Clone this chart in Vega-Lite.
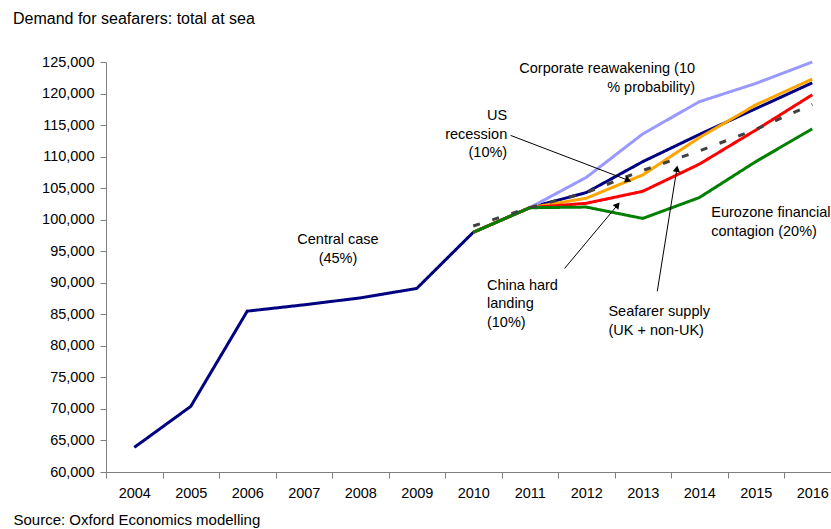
{
  "$schema": "https://vega.github.io/schema/vega-lite/v6.json",
  "width": 734.5,
  "height": 410,
  "padding": {"left": 5, "top": 11, "right": 5, "bottom": 5},
  "background": "white",
  "config": {"view": {"stroke": null}, "font": "Liberation Sans"},
  "title": {"text": "Demand for seafarers: total at sea", "anchor": "start", "frame": "bounds", "dx": 8, "offset": 27, "fontSize": 16, "fontWeight": "normal", "color": "black", "font": "Liberation Sans"},
  "datasets": {
    "series": [
      {"year": "2004", "series": "Central case", "value": 63900},
      {"year": "2005", "series": "Central case", "value": 70400},
      {"year": "2006", "series": "Central case", "value": 85500},
      {"year": "2007", "series": "Central case", "value": 86500},
      {"year": "2008", "series": "Central case", "value": 87600},
      {"year": "2009", "series": "Central case", "value": 89100},
      {"year": "2010", "series": "Central case", "value": 98000},
      {"year": "2011", "series": "Central case", "value": 101900},
      {"year": "2012", "series": "Central case", "value": 104300},
      {"year": "2013", "series": "Central case", "value": 109200},
      {"year": "2014", "series": "Central case", "value": 113500},
      {"year": "2015", "series": "Central case", "value": 117600},
      {"year": "2016", "series": "Central case", "value": 121700},
      {"year": "2010", "series": "Corporate reawakening", "value": 98000},
      {"year": "2011", "series": "Corporate reawakening", "value": 101900},
      {"year": "2012", "series": "Corporate reawakening", "value": 106700},
      {"year": "2013", "series": "Corporate reawakening", "value": 113600},
      {"year": "2014", "series": "Corporate reawakening", "value": 118700},
      {"year": "2015", "series": "Corporate reawakening", "value": 121600},
      {"year": "2016", "series": "Corporate reawakening", "value": 125000},
      {"year": "2010", "series": "US recession", "value": 98000},
      {"year": "2011", "series": "US recession", "value": 101900},
      {"year": "2012", "series": "US recession", "value": 103400},
      {"year": "2013", "series": "US recession", "value": 107100},
      {"year": "2014", "series": "US recession", "value": 113000},
      {"year": "2015", "series": "US recession", "value": 118200},
      {"year": "2016", "series": "US recession", "value": 122300},
      {"year": "2010", "series": "China hard landing", "value": 98000},
      {"year": "2011", "series": "China hard landing", "value": 101900},
      {"year": "2012", "series": "China hard landing", "value": 102600},
      {"year": "2013", "series": "China hard landing", "value": 104500},
      {"year": "2014", "series": "China hard landing", "value": 108800},
      {"year": "2015", "series": "China hard landing", "value": 114200},
      {"year": "2016", "series": "China hard landing", "value": 119800},
      {"year": "2010", "series": "Eurozone financial contagion", "value": 98000},
      {"year": "2011", "series": "Eurozone financial contagion", "value": 101900},
      {"year": "2012", "series": "Eurozone financial contagion", "value": 102000},
      {"year": "2013", "series": "Eurozone financial contagion", "value": 100200},
      {"year": "2014", "series": "Eurozone financial contagion", "value": 103500},
      {"year": "2015", "series": "Eurozone financial contagion", "value": 109200},
      {"year": "2016", "series": "Eurozone financial contagion", "value": 114400},
      {"year": "2010", "series": "Seafarer supply", "value": 99000},
      {"year": "2011", "series": "Seafarer supply", "value": 101900},
      {"year": "2012", "series": "Seafarer supply", "value": 104300},
      {"year": "2013", "series": "Seafarer supply", "value": 107800},
      {"year": "2014", "series": "Seafarer supply", "value": 110900},
      {"year": "2015", "series": "Seafarer supply", "value": 114300},
      {"year": "2016", "series": "Seafarer supply", "value": 118300}
    ],
    "labels": [
      {"label": "Central case\n(45%)", "xq": 2007.606, "value": 97890},
      {"label": "Corporate reawakening (10\n% probability)", "xq": 2013.925, "value": 125000},
      {"label": "US\nrecession\n(10%)", "xq": 2010.601, "value": 117500},
      {"label": "Eurozone financial\ncontagion (20%)", "xq": 2014.213, "value": 102170},
      {"label": "China hard\nlanding\n(10%)", "xq": 2010.243, "value": 90600},
      {"label": "Seafarer supply\n(UK + non-UK)", "xq": 2012.392, "value": 86400}
    ],
    "arrows": [
      {"arrow": "US", "xq": 2010.661, "value": 113363, "xq2": 2012.744, "value2": 106245},
      {"arrow": "China", "xq": 2011.617, "value": 92277, "xq2": 2012.555, "value2": 102329},
      {"arrow": "Supply", "xq": 2013.257, "value": 88647, "xq2": 2013.604, "value2": 108084}
    ]
  },
  "resolve": {"scale": {"x": "independent"}, "axis": {"y": "independent"}},
  "layer": [
    {
      "data": {"name": "series"},
      "mark": {"type": "line", "strokeWidth": 3},
      "encoding": {
        "x": {"field": "year", "type": "ordinal",
          "scale": {"type": "band", "domain": ["2004","2005","2006","2007","2008","2009","2010","2011","2012","2013","2014","2015","2016"], "paddingInner": 0, "paddingOuter": 0},
          "axis": {"tickBand": "extent", "labelAngle": 0, "labelFontSize": 14.5, "labelPadding": 8, "tickSize": 6, "domainColor": "#7f7f7f", "tickColor": "#7f7f7f", "labelColor": "black", "labelFont": "Liberation Sans",
            "title": "Source: Oxford Economics modelling", "titleAlign": "left", "titleX": -93, "titleY": 52, "titleBaseline": "alphabetic", "titleFontSize": 15, "titleFontWeight": "normal", "titleColor": "black", "titleFont": "Liberation Sans"}},
        "y": {"field": "value", "type": "quantitative",
          "scale": {"domain": [60000, 125000], "nice": false, "zero": false},
          "axis": {"values": [60000,65000,70000,75000,80000,85000,90000,95000,100000,105000,110000,115000,120000,125000], "format": ",.0f", "grid": false, "title": null, "labelFontSize": 14.5, "labelPadding": 6, "tickSize": 6, "minExtent": 101, "domainColor": "#7f7f7f", "tickColor": "#7f7f7f", "labelColor": "black", "labelFont": "Liberation Sans"}},
        "color": {"field": "series", "type": "nominal", "legend": null,
          "scale": {"domain": ["Central case", "Corporate reawakening", "US recession", "China hard landing", "Eurozone financial contagion", "Seafarer supply"],
            "range": ["#000080", "#9999ff", "#ffa500", "#ff0000", "#008000", "#404040"]}},
        "strokeDash": {"field": "series", "type": "nominal", "legend": null,
          "scale": {"domain": ["Central case", "Corporate reawakening", "US recession", "China hard landing", "Eurozone financial contagion", "Seafarer supply"],
            "range": [[1,0],[1,0],[1,0],[1,0],[1,0],[7,13]]}}
      }
    },
    {
      "layer": [
        {
          "data": {"name": "arrows"},
          "mark": {"type": "rule", "color": "black", "strokeWidth": 1},
          "encoding": {
            "x": {"field": "xq", "type": "quantitative", "scale": {"domain": [2003.5, 2016.5], "nice": false, "zero": false}, "axis": null},
            "y": {"field": "value", "type": "quantitative", "axis": null},
            "x2": {"field": "xq2"},
            "y2": {"field": "value2"}
          }
        },
        {
          "data": {"name": "arrows"},
          "transform": [{"filter": "datum.arrow == 'US'"}],
          "mark": {"type": "point", "shape": "triangle-up", "filled": true, "color": "black", "opacity": 1, "size": 55, "angle": 111},
          "encoding": {
            "x": {"field": "xq2", "type": "quantitative", "scale": {"domain": [2003.5, 2016.5], "nice": false, "zero": false}, "axis": null},
            "y": {"field": "value2", "type": "quantitative", "axis": null}
          }
        },
        {
          "data": {"name": "arrows"},
          "transform": [{"filter": "datum.arrow == 'China'"}],
          "mark": {"type": "point", "shape": "triangle-up", "filled": true, "color": "black", "opacity": 1, "size": 55, "angle": 40},
          "encoding": {
            "x": {"field": "xq2", "type": "quantitative", "scale": {"domain": [2003.5, 2016.5], "nice": false, "zero": false}, "axis": null},
            "y": {"field": "value2", "type": "quantitative", "axis": null}
          }
        },
        {
          "data": {"name": "arrows"},
          "transform": [{"filter": "datum.arrow == 'Supply'"}],
          "mark": {"type": "point", "shape": "triangle-up", "filled": true, "color": "black", "opacity": 1, "size": 55, "angle": 9},
          "encoding": {
            "x": {"field": "xq2", "type": "quantitative", "scale": {"domain": [2003.5, 2016.5], "nice": false, "zero": false}, "axis": null},
            "y": {"field": "value2", "type": "quantitative", "axis": null}
          }
        },
        {
          "data": {"name": "labels"},
          "transform": [{"filter": {"field": "label", "oneOf": ["Central case\n(45%)"]}}],
          "mark": {"type": "text", "align": "center", "baseline": "top", "lineBreak": "\n", "lineHeight": 18.5, "fontSize": 14.5, "font": "Liberation Sans", "color": "black"},
          "encoding": {
            "x": {"field": "xq", "type": "quantitative", "scale": {"domain": [2003.5, 2016.5], "nice": false, "zero": false}, "axis": null},
            "y": {"field": "value", "type": "quantitative", "axis": null},
            "text": {"field": "label"}
          }
        },
        {
          "data": {"name": "labels"},
          "transform": [{"filter": {"field": "label", "oneOf": ["Corporate reawakening (10\n% probability)", "US\nrecession\n(10%)"]}}],
          "mark": {"type": "text", "align": "right", "baseline": "top", "lineBreak": "\n", "lineHeight": 18.5, "fontSize": 14.5, "font": "Liberation Sans", "color": "black"},
          "encoding": {
            "x": {"field": "xq", "type": "quantitative", "scale": {"domain": [2003.5, 2016.5], "nice": false, "zero": false}, "axis": null},
            "y": {"field": "value", "type": "quantitative", "axis": null},
            "text": {"field": "label"}
          }
        },
        {
          "data": {"name": "labels"},
          "transform": [{"filter": {"field": "label", "oneOf": ["Eurozone financial\ncontagion (20%)", "China hard\nlanding\n(10%)", "Seafarer supply\n(UK + non-UK)"]}}],
          "mark": {"type": "text", "align": "left", "baseline": "top", "lineBreak": "\n", "lineHeight": 18.5, "fontSize": 14.5, "font": "Liberation Sans", "color": "black"},
          "encoding": {
            "x": {"field": "xq", "type": "quantitative", "scale": {"domain": [2003.5, 2016.5], "nice": false, "zero": false}, "axis": null},
            "y": {"field": "value", "type": "quantitative", "axis": null},
            "text": {"field": "label"}
          }
        }
      ]
    }
  ]
}
